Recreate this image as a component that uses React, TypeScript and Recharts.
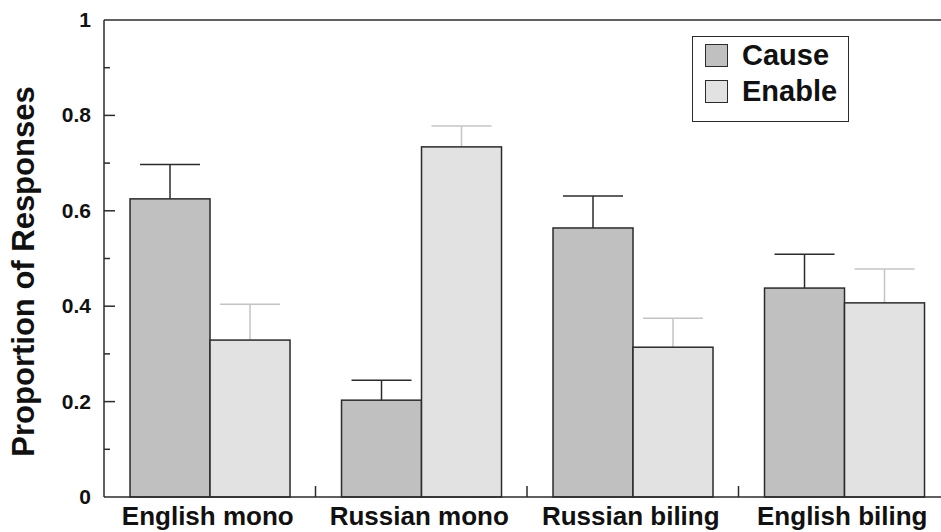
import React from 'react';
import { BarChart, Bar, XAxis, YAxis, ReferenceLine } from 'recharts';

const groups = ['English mono', 'Russian mono', 'Russian biling', 'English biling'];
const causeValues = [0.625, 0.203, 0.564, 0.438];
const causeErrors = [0.072, 0.042, 0.067, 0.071];
const enableValues = [0.329, 0.734, 0.314, 0.407];
const enableErrors = [0.075, 0.044, 0.061, 0.071];
const yTicks = [0, 0.1, 0.2, 0.3, 0.4, 0.5, 0.6, 0.7, 0.8, 0.9, 1];
const seriesNames = ['Cause', 'Enable'];

const data = groups.map((g, i) => ({
  group: g,
  cause: causeValues[i],
  causeErr: causeErrors[i],
  enable: enableValues[i],
  enableErr: enableErrors[i],
}));

const FONT = '"Liberation Sans", Arial, Helvetica, sans-serif';
const INK = '#2b2b2b';
const CAUSE_FILL = '#c0c0c0';
const ENABLE_FILL = '#e2e2e2';

const CHART_W = 960;
const CHART_H = 532;
const MARGIN = { top: 20, right: 0, bottom: 0, left: 0 };
const Y_AXIS_W = 104;
const RIGHT_AXIS_W = 10;
const PLOT_W = CHART_W - Y_AXIS_W - RIGHT_AXIS_W;
const BAND = PLOT_W / groups.length;

// bar with an upward-only whisker, scaled from the bar's own height
const makeShape = (valueKey: string, errKey: string, errColor: string) => (props: any) => {
  const { x, y, width, height, fill, payload } = props;
  const len = payload[valueKey] ? (height * payload[errKey]) / payload[valueKey] : 0;
  const cx = x + width / 2;
  return (
    <g>
      <line x1={cx} y1={y} x2={cx} y2={y - len} stroke={errColor} strokeWidth={1.5} />
      <line x1={cx - 30} y1={y - len} x2={cx + 30} y2={y - len} stroke={errColor} strokeWidth={1.5} />
      <rect x={x} y={y} width={width} height={height} fill={fill} stroke={INK} strokeWidth={1.5} />
    </g>
  );
};

const LeftTick = (props: any) => {
  const { x, y, payload } = props;
  const v = Math.round(payload.value * 10);
  const major = v % 2 === 0;
  return (
    <g>
      {v > 0 && v < 10 && (
        <line x1={x} y1={y} x2={x + (major ? 11 : 6)} y2={y} stroke={INK} strokeWidth={1.5} />
      )}
      {major && (
        <text x={x - 13} y={y} dy={7} textAnchor="end" fontFamily={FONT} fontWeight="bold" fontSize={21} fill="#111">
          {v === 10 ? '1' : v === 0 ? '0' : (v / 10).toFixed(1)}
        </text>
      )}
    </g>
  );
};

const RightTick = (props: any) => {
  const { x, y, payload } = props;
  const v = Math.round(payload.value * 10);
  if (v <= 0 || v >= 10) return null;
  const major = v % 2 === 0;
  return <line x1={x} y1={y} x2={x - (major ? 11 : 6)} y2={y} stroke="#bbb" strokeWidth={1.5} />;
};

const BottomTick = (props: any) => {
  const { x, y, payload, index } = props;
  return (
    <g>
      {index < groups.length - 1 && (
        <line x1={x + BAND / 2} y1={y} x2={x + BAND / 2} y2={y - 11} stroke={INK} strokeWidth={1.5} />
      )}
      <text x={x - 2} y={y} dy={28} textAnchor="middle" fontFamily={FONT} fontWeight="bold" fontSize={26} fill="#111">
        {payload.value}
      </text>
    </g>
  );
};

const LegendBox = () => (
  <div
    style={{
      position: 'absolute',
      left: 692,
      top: 36,
      width: 157,
      height: 86,
      border: `1.5px solid ${INK}`,
      background: '#fff',
      boxSizing: 'border-box',
      padding: '0 0 0 12px',
      fontFamily: FONT,
      fontWeight: 'bold',
      fontSize: 29,
      color: '#111',
    }}
  >
    {seriesNames.map((name, i) => (
      <div key={name} style={{ display: 'flex', alignItems: 'center', height: 36 }}>
        <span
          style={{
            display: 'inline-block',
            width: 23,
            height: 23,
            boxSizing: 'border-box',
            border: `1.5px solid ${INK}`,
            background: i === 0 ? CAUSE_FILL : ENABLE_FILL,
            marginRight: 14,
          }}
        />
        <span style={{ lineHeight: '36px' }}>{name}</span>
      </div>
    ))}
  </div>
);

const App: React.FC = () => {
  return (
    <div style={{ position: 'fixed', left: 0, top: 0, width: 941, height: 532, overflow: 'hidden', background: '#fff' }}>
      <BarChart
        width={CHART_W}
        height={CHART_H}
        data={data}
        margin={MARGIN}
        barCategoryGap="12.3%"
        barGap={0}
      >
        <XAxis
          dataKey="group"
          height={35}
          axisLine={{ stroke: INK, strokeWidth: 1.5 }}
          tickLine={false}
          tickSize={0}
          tickMargin={0}
          interval={0}
          tick={<BottomTick />}
        />
        <YAxis
          yAxisId="left"
          width={Y_AXIS_W}
          domain={[0, 1]}
          ticks={yTicks}
          axisLine={{ stroke: INK, strokeWidth: 1.5 }}
          tickLine={false}
          tickSize={0}
          tickMargin={0}
          interval={0}
          tick={<LeftTick />}
          label={{
            value: 'Proportion of Responses',
            angle: -90,
            position: 'insideLeft',
            offset: 0,
            content: (p: any) => {
              const vb = p.viewBox;
              const cy = vb.y + vb.height / 2 + 13;
              return (
                <text
                  x={23}
                  y={cy}
                  transform={`rotate(-90, 23, ${cy})`}
                  textAnchor="middle"
                  dominantBaseline="central"
                  fontFamily={FONT}
                  fontWeight="bold"
                  fontSize={31}
                  fill="#111"
                >
                  Proportion of Responses
                </text>
              );
            },
          }}
        />
        <YAxis
          yAxisId="right"
          orientation="right"
          width={RIGHT_AXIS_W}
          domain={[0, 1]}
          ticks={yTicks}
          axisLine={{ stroke: INK, strokeWidth: 1.5 }}
          tickLine={false}
          tickSize={0}
          tickMargin={0}
          interval={0}
          tick={<RightTick />}
        />
        <ReferenceLine yAxisId="left" y={1} stroke={INK} strokeWidth={1.5} />
        <Bar
          yAxisId="left"
          dataKey="cause"
          name="Cause"
          fill={CAUSE_FILL}
          isAnimationActive={false}
          shape={makeShape('cause', 'causeErr', INK)}
        />
        <Bar
          yAxisId="left"
          dataKey="enable"
          name="Enable"
          fill={ENABLE_FILL}
          isAnimationActive={false}
          shape={makeShape('enable', 'enableErr', '#c4c4c4')}
        />
      </BarChart>
      <LegendBox />
    </div>
  );
};

export default App;
